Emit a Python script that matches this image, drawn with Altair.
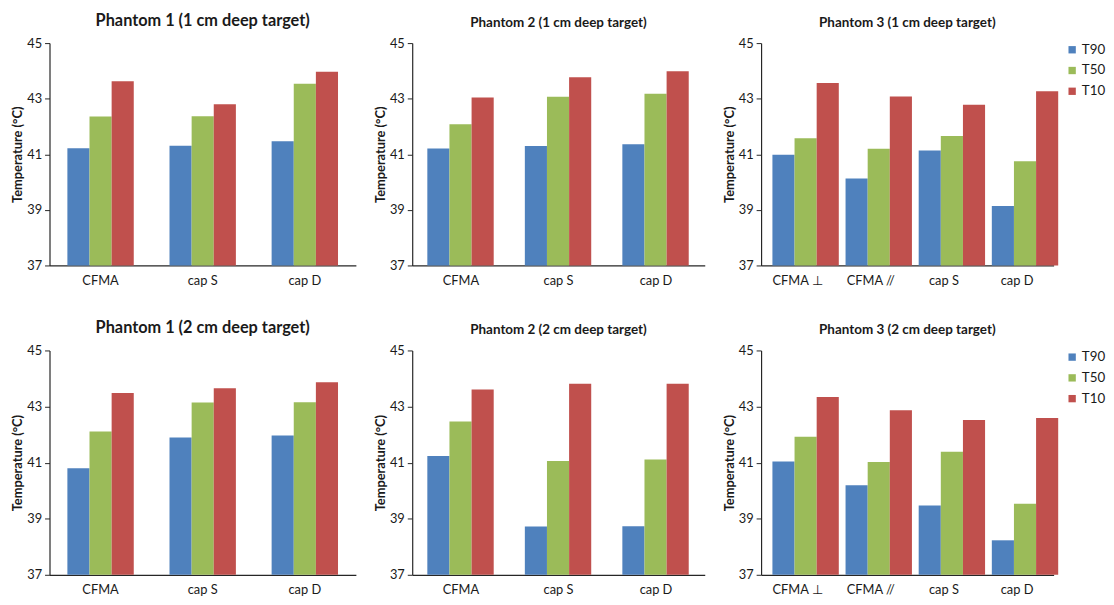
import altair as alt
import pandas as pd

FONT = "Lato"
series = ["T90", "T50", "T10"]
colors = ["#4F81BD", "#9BBB59", "#C0504D"]
cats_3 = ["CFMA", "cap S", "cap D"]
cats_4 = ["CFMA \u22a5", "CFMA //", "cap S", "cap D"]
y_ticks = [37, 39, 41, 43, 45]

# Phantom 1, 1 cm deep target
p1_1cm_T90 = [41.22, 41.31, 41.47]
p1_1cm_T50 = [42.36, 42.37, 43.54]
p1_1cm_T10 = [43.63, 42.80, 43.97]
# Phantom 2, 1 cm deep target
p2_1cm_T90 = [41.21, 41.30, 41.36]
p2_1cm_T50 = [42.08, 43.07, 43.18]
p2_1cm_T10 = [43.04, 43.77, 43.99]
# Phantom 3, 1 cm deep target
p3_1cm_T90 = [40.98, 40.13, 41.14, 39.14]
p3_1cm_T50 = [41.58, 41.20, 41.66, 40.75]
p3_1cm_T10 = [43.56, 43.08, 42.78, 43.27]
# Phantom 1, 2 cm deep target
p1_2cm_T90 = [40.80, 41.90, 41.97]
p1_2cm_T50 = [42.11, 43.14, 43.15]
p1_2cm_T10 = [43.48, 43.65, 43.87]
# Phantom 2, 2 cm deep target
p2_2cm_T90 = [41.24, 38.72, 38.73]
p2_2cm_T50 = [42.47, 41.06, 41.11]
p2_2cm_T10 = [43.61, 43.81, 43.81]
# Phantom 3, 2 cm deep target
p3_2cm_T90 = [41.04, 40.19, 39.47, 38.23]
p3_2cm_T50 = [41.92, 41.02, 41.39, 39.53]
p3_2cm_T10 = [43.34, 42.87, 42.52, 42.59]

AX = "#262626"


def panel(title, cats, t90, t50, t10, title_size, legend, pad_inner, width, height):
    rows = []
    for s, vals in zip(series, [t90, t50, t10]):
        for c, v in zip(cats, vals):
            rows.append({"cat": c, "series": s, "temp": v})
    df = pd.DataFrame(rows)
    if legend:
        leg = alt.Legend(title=None, orient="right", symbolType="square", symbolSize=55,
                         symbolStrokeWidth=0, labelFontSize=13.5, labelFont=FONT,
                         labelColor="#1a1a1a", rowPadding=6, offset=12, labelOffset=3,
                         padding=0)
    else:
        leg = None
    return alt.Chart(
        df,
        title=alt.Title(title, fontSize=title_size, fontWeight="bold", font=FONT,
                        color="#1a1a1a", offset=8),
    ).mark_bar().encode(
        x=alt.X("cat:N", sort=cats, scale=alt.Scale(paddingInner=pad_inner, paddingOuter=pad_inner / 2),
                axis=alt.Axis(title=None, labelAngle=0, ticks=False, labelPadding=9,
                              labelFontSize=13, labelFont=FONT, labelColor="#1a1a1a",
                              domainColor=AX, domainWidth=1.2)),
        xOffset=alt.XOffset("series:N", sort=series, scale=alt.Scale(domain=series)),
        y=alt.Y("temp:Q", scale=alt.Scale(domain=[37, 45], zero=False, nice=False),
                axis=alt.Axis(values=y_ticks, title="Temperature (\u00b0C)", grid=False,
                              tickSize=5, tickColor=AX, domainColor=AX, domainWidth=1.2,
                              labelFontSize=13, labelFont=FONT, labelColor="#1a1a1a",
                              labelPadding=3, titleFont=FONT, titleFontSize=13,
                              titleFontWeight="bold", titleColor="#1a1a1a", titlePadding=2)),
        y2=alt.datum(37),
        color=alt.Color("series:N", scale=alt.Scale(domain=series, range=colors), legend=leg),
    ).properties(width=width, height=height)


row1 = alt.hconcat(
    panel("Phantom 1 (1 cm deep target)", cats_3, p1_1cm_T90, p1_1cm_T50, p1_1cm_T10, 16.5, False, 0.35, 310, 225),
    panel("Phantom 2 (1 cm deep target)", cats_3, p2_1cm_T90, p2_1cm_T50, p2_1cm_T10, 13.6, False, 0.31, 296, 225),
    panel("Phantom 3 (1 cm deep target)", cats_4, p3_1cm_T90, p3_1cm_T50, p3_1cm_T10, 13.6, True, 0.31, 296, 225),
    spacing=57, bounds="flush",
).resolve_scale(color="independent")

row2 = alt.hconcat(
    panel("Phantom 1 (2 cm deep target)", cats_3, p1_2cm_T90, p1_2cm_T50, p1_2cm_T10, 16.5, False, 0.35, 310, 227),
    panel("Phantom 2 (2 cm deep target)", cats_3, p2_2cm_T90, p2_2cm_T50, p2_2cm_T10, 13.6, False, 0.31, 296, 227),
    panel("Phantom 3 (2 cm deep target)", cats_4, p3_2cm_T90, p3_2cm_T50, p3_2cm_T10, 13.6, True, 0.31, 296, 227),
    spacing=57, bounds="flush",
).resolve_scale(color="independent")

chart = alt.vconcat(row1, row2, spacing=33).resolve_scale(
    color="independent"
).properties(
    padding={"left": 3, "top": 1, "right": 0, "bottom": 0},
    background="white",
).configure_view(stroke=None)

chart.save("out.html", embed_options={"renderer": "svg", "actions": False})
